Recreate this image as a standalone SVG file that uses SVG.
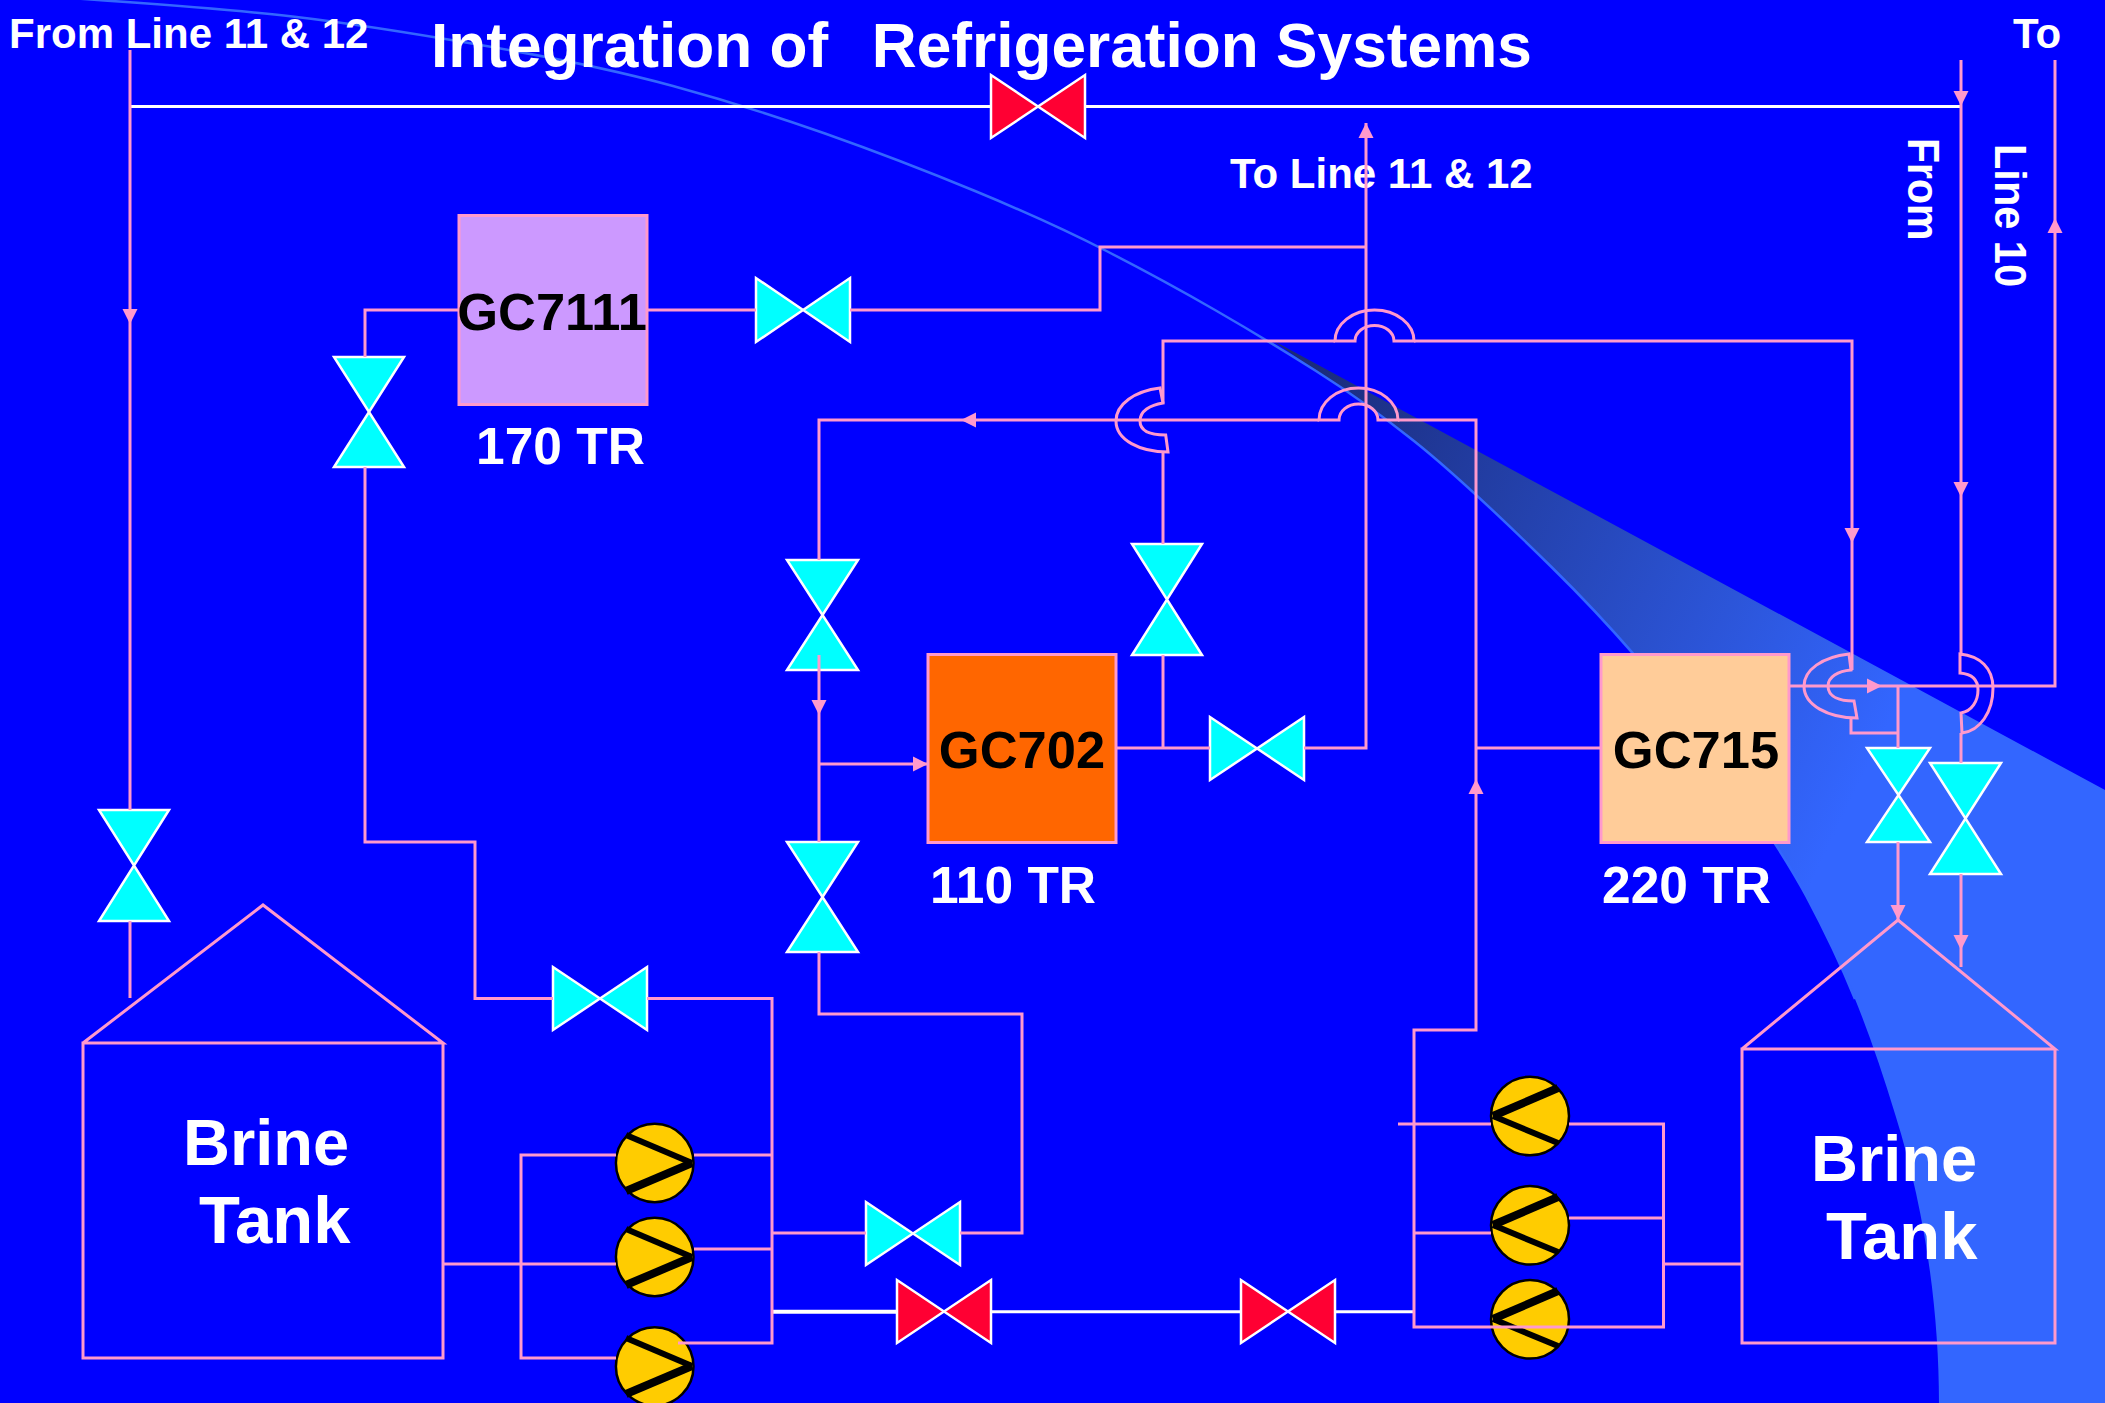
<svg xmlns="http://www.w3.org/2000/svg" width="2105" height="1403" viewBox="0 0 2105 1403">
<style>
text{font-family:"Liberation Sans",Arial,sans-serif;font-weight:700;fill:#fff;white-space:pre}
.p{fill:none;stroke:#FF99CC;stroke-width:3;stroke-linejoin:miter}
.w{fill:none;stroke:#fff;stroke-width:3}
.c{fill:#0ff;stroke:#fff;stroke-width:2.5}
.r{fill:#FF0033;stroke:#fff;stroke-width:2.5}
.a{fill:#FF99CC}
.box{stroke:#FF99CC;stroke-width:3}
.pump{fill:#FFCC00;stroke:#000;stroke-width:2.5}
.chev{fill:none;stroke:#000;stroke-width:6}
.chev2{fill:none;stroke:#000;stroke-width:8}
.id{fill:#000;font-size:52.5px;text-anchor:middle}
.tr{font-size:51.5px}
.lab{font-size:42px}
.brine{font-size:65px}
.tank{font-size:67px}
</style>
<defs>
<linearGradient id="wedge" gradientUnits="userSpaceOnUse" x1="1280" y1="400" x2="1900" y2="700">
<stop offset="0" stop-color="#1A2A78"/><stop offset="1" stop-color="#3366FF"/>
</linearGradient>
<path id="ah" d="M0 0L-15-7.5L-15 7.5Z"/>
</defs>
<rect width="2105" height="1403" fill="#00f"/>
<path d="M1272 340L1316 371Q1365 402 1414 441Q1463 480 1551.500 567Q1640 654 1709 748.500Q1778 843 1806.500 896.500Q1835 950 1855 999Q1875 1048 1895.500 1115.500C1925 1210 1939 1310 1939 1403H2105V790Z" fill="url(#wedge)"/>
<path d="M40 -4Q220 8 292.500 16.500Q365 25 480.500 45Q596 65 673 86Q750 107 825 133.500Q900 160 975 191Q1050 222 1106.500 251Q1163 280 1215 310Q1267 340 1316 371Q1365 402 1414 441Q1463 480 1551.500 567Q1640 654 1709 748.500Q1778 843 1806.500 896.500Q1835 950 1855 999" fill="none" stroke="#3366FF" stroke-width="2.500"/>

<text x="9" y="47.500" class="lab">From Line 11 &amp; 12</text>
<text x="431" y="67" font-size="62.2">Integration of  <tspan dx="9">Refrigeration Systems</tspan></text>
<text x="1230" y="187.500" class="lab">To Line 11 &amp; 12</text>
<text x="2013" y="47.500" class="lab">To</text>
<text transform="translate(1908 138) rotate(90) scale(1 1.08)" font-size="41">From</text>
<text transform="translate(1995 144) rotate(90) scale(1 1.08)" font-size="41.5">Line 10</text>

<g id="gc7111"><rect x="459" y="215.500" width="188" height="189" fill="#CC99FF" class="box"/><text x="552" y="330" class="id">GC7111</text><text x="476" y="464" class="tr">170 TR</text></g>
<g id="gc702"><rect x="928" y="654.500" width="188" height="188" fill="#FF6600" class="box"/><text x="1022" y="768" class="id">GC702</text><text x="930" y="902.500" class="tr">110 TR</text></g>
<g id="gc715"><rect x="1601" y="654.500" width="188" height="188" fill="#FFCC99" class="box"/><text x="1696" y="768" class="id">GC715</text><text x="1602" y="902.500" class="tr">220 TR</text></g>

<g id="tank-left"><path class="p" d="M83 1043L263 905L443 1043H83V1358H443V1043"/><text x="183" y="1165" class="brine">Brine</text><text x="199" y="1243" class="tank">Tank</text></g>
<g id="tank-right"><path class="p" d="M1742 1049L1898 920L2055 1049H1742V1343H2055V1049"/><text x="1811" y="1181" class="brine">Brine</text><text x="1826" y="1259" class="tank">Tank</text></g>

<g id="valve-top"><path class="r" d="M991 75V138L1085 75V138Z"/></g>
<g id="valve-gc7111-out"><path class="c" d="M756 278V342L850 278V342Z"/></g>
<g id="valve-gc7111-in"><path class="c" d="M334 357H404L334 467H404Z"/></g>
<g id="valve-left"><path class="c" d="M99 810H169L99 921H169Z"/></g>
<g id="valve-upper-1"><path class="c" d="M787 560H858L787 670H858Z"/></g>
<g id="valve-upper-2"><path class="c" d="M787 842H858L787 952H858Z"/></g>
<g id="valve-gc702-in"><path class="c" d="M1132 544H1202L1132 655H1202Z"/></g>
<g id="valve-gc702-out"><path class="c" d="M1210 717V780L1304 717V780Z"/></g>
<g id="valve-tank-left"><path class="c" d="M553 967V1030L647 967V1030Z"/></g>
<g id="valve-pump-left"><path class="c" d="M866 1202V1265L960 1202V1265Z"/></g>
<g id="valve-red-1"><path class="r" d="M897 1280V1343L991 1280V1343Z"/></g>
<g id="valve-red-2"><path class="r" d="M1241 1280V1343L1335 1280V1343Z"/></g>
<g id="valve-gc715-1"><path class="c" d="M1867 748H1930L1867 842H1930Z"/></g>
<g id="valve-gc715-2"><path class="c" d="M1930 763H2001L1930 874H2001Z"/></g>

<g id="pump-l1"><ellipse class="pump" cx="654.700" cy="1163" rx="38.800" ry="39.200"/><path class="chev" d="M626 1135L692 1163"/><path class="chev2" d="M692 1163L626 1191"/></g>
<g id="pump-l2"><ellipse class="pump" cx="654.700" cy="1257" rx="38.800" ry="39.200"/><path class="chev" d="M626 1229L692 1257"/><path class="chev2" d="M692 1257L626 1285"/></g>
<g id="pump-l3"><ellipse class="pump" cx="654.700" cy="1366.500" rx="38.800" ry="39.200"/><path class="chev" d="M626 1338L692 1366"/><path class="chev2" d="M692 1366L626 1394"/></g>
<g id="pump-r1"><ellipse class="pump" cx="1530" cy="1116" rx="39" ry="39.300"/><path class="chev2" d="M1558 1088L1493 1116"/><path class="chev" d="M1493 1116L1558 1143"/></g>
<g id="pump-r2"><ellipse class="pump" cx="1530" cy="1225.300" rx="39" ry="39.300"/><path class="chev2" d="M1558 1197L1493 1225"/><path class="chev" d="M1493 1225L1558 1252"/></g>
<g id="pump-r3"><ellipse class="pump" cx="1530" cy="1319.300" rx="39" ry="39.300"/><path class="chev2" d="M1558 1291L1493 1319"/><path class="chev" d="M1493 1319L1558 1346"/></g>

<g id="connectors">
<path class="w" d="M130 106.500H991M1085 106.500H1961"/>
<path class="w" style="stroke-width:4" d="M772 1311.700H897"/>
<path class="w" d="M991 1311.700H1241M1335 1311.700H1414"/>
<path class="p" d="M130 50V810M130 921V998"/>
<path class="p" d="M1961 60V654M1961 733V763M1961 874V967"/>
<path class="p" d="M2055 60V686H1790"/>
<path class="p" d="M458 310H365V357M365 467V842H475V998.500H553M647 998.500H772V1343H678"/>
<path class="p" d="M648 310H756M850 310H1100V247H1366"/>
<path class="p" d="M1366 123V748H1304M1210 748H1117"/>
<path class="p" d="M1163 544V452M1163 403V341H1335M1414 341H1852V670M1851 718V733H1898"/>
<path class="p" d="M1163 655V748"/>
<path class="p" d="M1898 686V748M1898 842V920"/>
<path class="p" d="M819 842V655M819 560V420H1319M1398 420H1476V1030H1414V1327H1663.500V1124H1569M1491 1124H1398"/>
<path class="p" d="M819 764H928"/>
<path class="p" d="M819 952V1014H1022V1233H960M866 1233H772"/>
<path class="p" d="M1476 748H1601"/>
<path class="p" d="M443 1264H616M616 1155H521V1358H616"/>
<path class="p" d="M694 1155H772M694 1249H772"/>
<path class="p" d="M1414 1233H1491M1569 1218H1663.500M1663.500 1264H1742"/>
<path class="p" d="M1335 341A39.500 31 0 0 1 1414 341H1394A19.500 15.500 0 0 0 1355 341Z"/>
<path class="p" d="M1319 420A39.500 32 0 0 1 1398 420H1378A19.500 16 0 0 0 1339 420Z"/>
<path class="p" d="M1160 388C1135 391 1116 404 1116 421C1116 440 1140 452 1168 452L1165.700 435C1150 435 1140 431 1140 421C1140 411 1150 405 1163 403Z"/>
<path class="p" d="M1849 654C1822 657 1804 670 1804 686C1804 705 1828 718 1857 718L1854 701C1840 701 1828 697 1828 686C1828 677 1838 671 1851 670Z"/>
<path class="p" d="M1960 654C1980 656 1993 668 1993 688C1993 712 1980 731 1962 733L1961 713C1972 711 1978 701 1978 690C1978 680 1972 674 1960 673Z"/>
<use href="#ah" class="a" transform="translate(130 324) rotate(90)"/>
<use href="#ah" class="a" transform="translate(1961 106) rotate(90)"/>
<use href="#ah" class="a" transform="translate(1961 497) rotate(90)"/>
<use href="#ah" class="a" transform="translate(1366 123) rotate(-90)"/>
<use href="#ah" class="a" transform="translate(2055 218) rotate(-90)"/>
<use href="#ah" class="a" transform="translate(961 420) rotate(180)"/>
<use href="#ah" class="a" transform="translate(1852 543) rotate(90)"/>
<use href="#ah" class="a" transform="translate(819 715) rotate(90)"/>
<use href="#ah" class="a" transform="translate(928 764)"/>
<use href="#ah" class="a" transform="translate(1882 686)"/>
<use href="#ah" class="a" transform="translate(1476 779) rotate(-90)"/>
<use href="#ah" class="a" transform="translate(1898 920) rotate(90)"/>
<use href="#ah" class="a" transform="translate(1961 950) rotate(90)"/>
</g>
</svg>
